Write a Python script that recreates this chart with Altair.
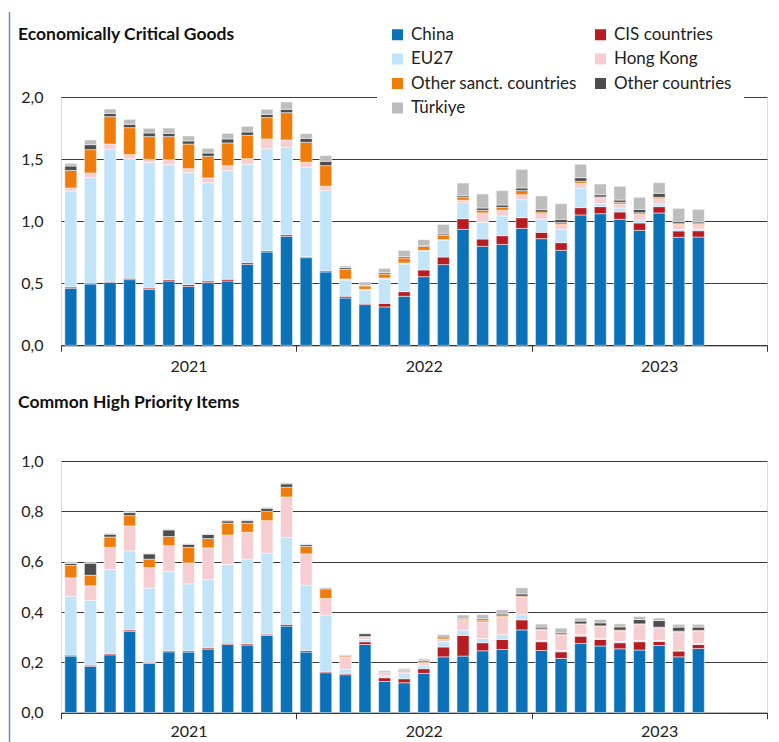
import altair as alt
import pandas as pd

FONT = "Lato"

months = [
    "2021-01", "2021-02", "2021-03", "2021-04", "2021-05", "2021-06",
    "2021-07", "2021-08", "2021-09", "2021-10", "2021-11", "2021-12",
    "2022-01", "2022-02", "2022-03", "2022-04", "2022-05", "2022-06",
    "2022-07", "2022-08", "2022-09", "2022-10", "2022-11", "2022-12",
    "2023-01", "2023-02", "2023-03", "2023-04", "2023-05", "2023-06",
    "2023-07", "2023-08", "2023-09",
]
year_labels = ["2021", "2022", "2023"]

series = ["China", "CIS countries", "EU27", "Hong Kong",
          "Other sanct. countries", "Other countries", "Türkiye"]
colors = ["#0b72b9", "#b71c22", "#c2e4f8", "#f6cdd0",
          "#f07d0b", "#4d4d4d", "#bdbdbd"]

title_ecg = "Economically Critical Goods"
title_chpi = "Common High Priority Items"

# ---- Economically Critical Goods ----
ecg_china = [0.460, 0.494, 0.507, 0.529, 0.451, 0.518, 0.475, 0.505, 0.518, 0.652, 0.752, 0.878,
             0.706, 0.591, 0.381, 0.328, 0.309, 0.395, 0.553, 0.650, 0.934, 0.797, 0.813, 0.942,
             0.859, 0.765, 1.050, 1.060, 1.015, 0.926, 1.066, 0.870, 0.872]
ecg_cis = [0.010, 0.008, 0.008, 0.011, 0.011, 0.011, 0.014, 0.013, 0.014, 0.014, 0.010, 0.013,
           0.008, 0.010, 0.014, 0.010, 0.029, 0.037, 0.054, 0.061, 0.086, 0.059, 0.070, 0.086,
           0.051, 0.062, 0.059, 0.057, 0.059, 0.059, 0.051, 0.051, 0.051]
ecg_eu27 = [0.773, 0.848, 1.066, 0.963, 1.012, 0.926, 0.902, 0.792, 0.875, 0.792, 0.822, 0.706,
            0.722, 0.645, 0.131, 0.105, 0.196, 0.223, 0.153, 0.137, 0.129, 0.135, 0.159, 0.145,
            0.105, 0.107, 0.158, 0.024, 0.032, 0.024, 0.021, 0.013, 0.014]
ecg_hk = [0.024, 0.038, 0.040, 0.033, 0.024, 0.040, 0.032, 0.038, 0.040, 0.045, 0.078, 0.057,
          0.038, 0.035, 0.008, 0.008, 0.008, 0.008, 0.005, 0.003, 0.019, 0.075, 0.045, 0.040,
          0.045, 0.038, 0.038, 0.046, 0.032, 0.046, 0.043, 0.038, 0.035]
ecg_sanct = [0.142, 0.188, 0.221, 0.217, 0.183, 0.186, 0.198, 0.174, 0.183, 0.188, 0.172, 0.220,
             0.161, 0.166, 0.078, 0.027, 0.032, 0.040, 0.032, 0.035, 0.027, 0.021, 0.024, 0.033,
             0.014, 0.016, 0.016, 0.008, 0.014, 0.013, 0.011, 0.008, 0.008]
ecg_other = [0.035, 0.040, 0.026, 0.027, 0.029, 0.026, 0.025, 0.027, 0.032, 0.027, 0.026, 0.027,
             0.032, 0.035, 0.014, 0.005, 0.011, 0.011, 0.008, 0.011, 0.013, 0.019, 0.019, 0.021,
             0.019, 0.027, 0.029, 0.018, 0.018, 0.027, 0.032, 0.016, 0.013]
ecg_turkiye = [0.022, 0.038, 0.035, 0.040, 0.038, 0.043, 0.040, 0.038, 0.045, 0.046, 0.041, 0.059,
               0.038, 0.046, 0.013, 0.027, 0.035, 0.051, 0.046, 0.077, 0.099, 0.113, 0.116, 0.150,
               0.110, 0.126, 0.108, 0.086, 0.111, 0.097, 0.086, 0.107, 0.102]

# ---- Common High Priority Items ----
chpi_china = [0.225, 0.184, 0.230, 0.324, 0.196, 0.242, 0.241, 0.253, 0.271, 0.269, 0.307, 0.344,
              0.241, 0.159, 0.151, 0.271, 0.124, 0.119, 0.156, 0.222, 0.225, 0.246, 0.251, 0.329,
              0.247, 0.216, 0.275, 0.265, 0.254, 0.249, 0.267, 0.222, 0.255]
chpi_cis = [0.004, 0.005, 0.005, 0.005, 0.004, 0.005, 0.005, 0.005, 0.005, 0.005, 0.005, 0.007,
            0.006, 0.005, 0.005, 0.011, 0.015, 0.016, 0.019, 0.039, 0.082, 0.032, 0.040, 0.040,
            0.035, 0.026, 0.029, 0.026, 0.024, 0.033, 0.016, 0.023, 0.016]
chpi_eu27 = [0.234, 0.257, 0.334, 0.314, 0.295, 0.315, 0.266, 0.271, 0.313, 0.336, 0.322, 0.345,
             0.260, 0.224, 0.017, 0.009, 0.007, 0.022, 0.013, 0.021, 0.021, 0.017, 0.019, 0.020,
             0.005, 0.005, 0.006, 0.004, 0.005, 0.005, 0.004, 0.002, 0.004]
chpi_hk = [0.073, 0.058, 0.088, 0.099, 0.082, 0.102, 0.083, 0.126, 0.117, 0.107, 0.129, 0.161,
           0.124, 0.066, 0.047, 0.009, 0.009, 0.006, 0.009, 0.010, 0.038, 0.066, 0.071, 0.070,
           0.042, 0.061, 0.041, 0.048, 0.042, 0.064, 0.050, 0.074, 0.049]
chpi_sanct = [0.049, 0.042, 0.041, 0.041, 0.033, 0.036, 0.062, 0.037, 0.047, 0.036, 0.037, 0.039,
              0.030, 0.038, 0.005, 0.003, 0.004, 0.005, 0.004, 0.006, 0.004, 0.007, 0.004, 0.004,
              0.004, 0.003, 0.002, 0.002, 0.003, 0.002, 0.003, 0.003, 0.003]
chpi_other = [0.008, 0.048, 0.011, 0.012, 0.021, 0.026, 0.012, 0.016, 0.009, 0.010, 0.012, 0.013,
              0.007, 0.003, 0.003, 0.011, 0.002, 0.003, 0.005, 0.006, 0.003, 0.005, 0.007, 0.009,
              0.007, 0.006, 0.011, 0.012, 0.013, 0.017, 0.026, 0.016, 0.013]
chpi_turkiye = [0.005, 0.002, 0.004, 0.004, 0.002, 0.003, 0.003, 0.003, 0.004, 0.004, 0.004, 0.005,
                0.003, 0.002, 0.002, 0.003, 0.006, 0.005, 0.007, 0.007, 0.015, 0.017, 0.017, 0.024,
                0.012, 0.019, 0.012, 0.013, 0.012, 0.012, 0.010, 0.011, 0.011]

ecg_cols = [ecg_china, ecg_cis, ecg_eu27, ecg_hk, ecg_sanct, ecg_other, ecg_turkiye]
chpi_cols = [chpi_china, chpi_cis, chpi_eu27, chpi_hk, chpi_sanct, chpi_other, chpi_turkiye]


def long_df(cols):
    rows = []
    for s_i, (name, vals) in enumerate(zip(series, cols)):
        for m_i, (m, v) in enumerate(zip(months, vals)):
            rows.append({"month": m, "idx": m_i, "series": name, "order": s_i, "value": v})
    return pd.DataFrame(rows)


# x axis: 36 monthly slots (Jan 2021 - Dec 2023); ticks at year boundaries,
# year labels centred under July of each year
n_slots = 12 * len(year_labels)
x_values = []
for i in range(len(year_labels)):
    x_values += [12 * i - 0.5, 12 * i + 6]
x_values.append(n_slots - 0.5)
label_expr = "".join(f"datum.value == {12 * i + 6} ? '{y}' : " for i, y in enumerate(year_labels)) + "''"

PLOT_W = 706


def x_axis(pad):
    return alt.Axis(
        values=x_values, labelExpr=label_expr, title=None, grid=False,
        domain=True, domainColor="#333333", domainWidth=1,
        ticks=True, tickColor="#333333", tickSize=6, tickWidth=1,
        tickOpacity={"condition": {"test": "datum.value % 1 != 0", "value": 1}, "value": 0},
        labelFont=FONT, labelFontSize=16, labelColor="#222222", labelPadding=pad,
        labelOverlap=False, labelFlush=False,
    )


def y_axis(vals):
    return alt.Axis(
        values=vals, labelExpr="replace(format(datum.value, '.1f'), '.', ',')",
        title=None, domain=False, ticks=False, tickSize=0,
        grid=True, gridColor="#3a3a3a", gridWidth=1,
        labelFont=FONT, labelFontSize=16, labelColor="#222222", labelPadding=18,
    )


def panel(cols, ymax, yvals, height, title, title_dy, legend, xpad, border=None):
    df = long_df(cols)
    bars = alt.Chart(df).mark_bar(size=12, stroke="white", strokeWidth=0.5).encode(
        x=alt.X("idx:Q", scale=alt.Scale(domain=[-0.5, n_slots - 0.5], nice=False, zero=False,
                                          padding=0),
                axis=x_axis(xpad)),
        y=alt.Y("value:Q", stack="zero", scale=alt.Scale(domain=[0, ymax], nice=False),
                axis=y_axis(yvals)),
        color=alt.Color("series:N", scale=alt.Scale(domain=series, range=colors),
                        sort=series, legend=legend),
        order=alt.Order("order:Q", sort="ascending"),
        tooltip=["month:N", "series:N", "value:Q"],
    )
    ttl = alt.Chart(pd.DataFrame({"text": [title]})).mark_text(
        align="left", baseline="middle", font=FONT, fontSize=17.5, fontWeight="bold", color="#111111"
    ).encode(text="text:N", x=alt.value(-43), y=alt.value(title_dy))
    layers = [bars, ttl]
    if border is not None:
        layers.append(border)
    return alt.layer(*layers).properties(width=PLOT_W, height=height)


# the white legend box reaches the right end of the plot, hiding the top gridline there
NBSP = "\u00a0"
legend_top = alt.Legend(
    orient="none", legendX=316, legendY=-83, columns=2, direction="horizontal", title=None,
    symbolType="square", symbolSize=121, symbolStrokeWidth=0,
    labelFont=FONT, labelFontSize=17, labelColor="#222222", labelOffset=5, labelLimit=400,
    labelExpr=f"datum.label == 'Other countries' ? datum.label + '{NBSP * 9}' : datum.label",
    rowPadding=6.5, columnPadding=15, padding=12, fillColor="white",
)

border = alt.Chart(pd.DataFrame({"b": [0]})).mark_rule(color="#5b8fd5", strokeWidth=1.5).encode(
    x=alt.value(-51.5), y=alt.value(-85), y2=alt.value(645.3)
)

top = panel(ecg_cols, 2.0, [0, 0.5, 1.0, 1.5, 2.0], 248.3, title_ecg, -62.5, legend_top, 7, border)
bottom = panel(chpi_cols, 1.0, [0, 0.2, 0.4, 0.6, 0.8, 1.0], 251.7, title_chpi, -58.5, None, 5)

chart = alt.vconcat(top, bottom, spacing=115, bounds="flush").resolve_scale(
    color="independent"
).resolve_legend(color="independent").properties(
    padding={"left": 0, "top": 2, "right": 0, "bottom": 0}
).configure_view(stroke=None).configure(font=FONT)

chart.save("out.html", embed_options={"renderer": "svg", "actions": False})
